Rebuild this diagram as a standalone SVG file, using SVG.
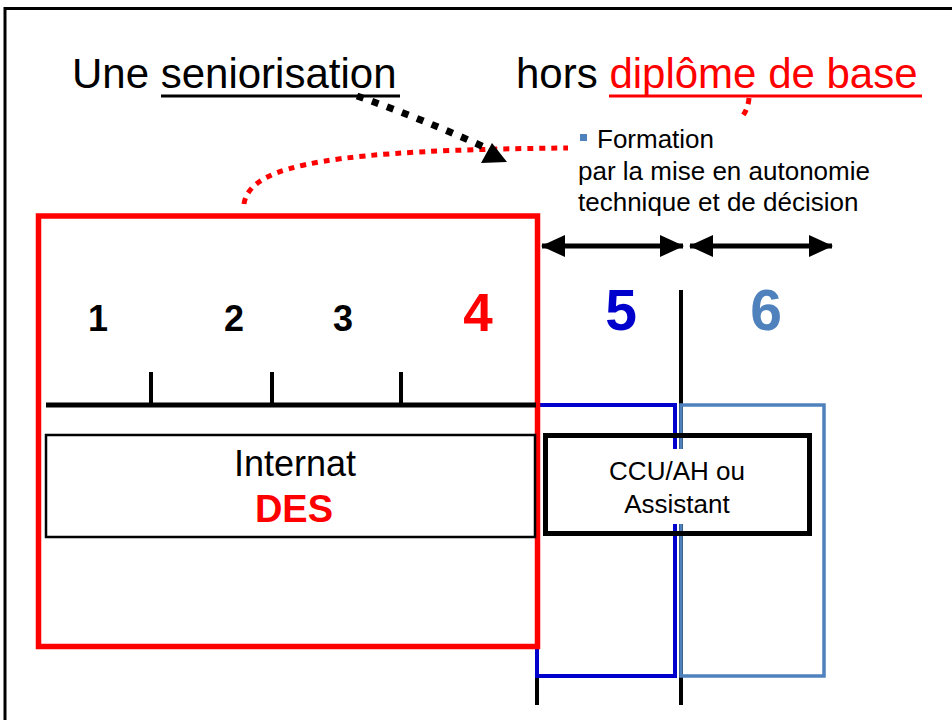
<svg xmlns="http://www.w3.org/2000/svg" width="952" height="720" viewBox="0 0 952 720">
<style>
  text { font-family: "Liberation Sans", Arial, sans-serif; }
  .title { font-size: 42px; fill: #000; }
  .red { fill: #FF0000; }
  .num { font-size: 36px; font-weight: bold; fill: #000; text-anchor: middle; }
  .small { font-size: 26px; fill: #000; }
  .mid { text-anchor: middle; }
  .reddot { fill: none; stroke: #FF0000; stroke-width: 5; stroke-dasharray: 6 6; }
  .blackdot { fill: none; stroke: #000; stroke-width: 7; stroke-dasharray: 7 9; }
  .axis { stroke: #000; stroke-width: 5; }
  .tick { stroke: #000; stroke-width: 4; }
  .dbl { stroke: #000; stroke-width: 5; }
</style>
<defs>
  <marker id="ah" viewBox="0 0 24 22" refX="23" refY="11" markerWidth="24" markerHeight="22" markerUnits="userSpaceOnUse" orient="auto-start-reverse">
    <path d="M0,0 L24,11 L0,22 Z" fill="#000"/>
  </marker>
</defs>
<rect x="0" y="0" width="952" height="720" fill="#fff"/>
<g id="frame">
  <rect x="5" y="8.5" width="980" height="740" fill="none" stroke="#000" stroke-width="3"/>
</g>

<g id="title-left">
  <text class="title" x="72" y="88">Une seniorisation</text>
  <line x1="161" y1="96" x2="400" y2="96" stroke="#000" stroke-width="3"/>
</g>
<g id="title-right">
  <text class="title" x="516" y="88">hors <tspan class="red">diplôme de base</tspan></text>
  <line x1="609" y1="96" x2="922" y2="96" stroke="#FF0000" stroke-width="3"/>
</g>

<g id="formation">
  <rect x="580" y="134" width="7" height="7" fill="#4F81BD"/>
  <text class="small" x="597" y="148">Formation</text>
  <text class="small" x="578" y="180">par la mise en autonomie</text>
  <text class="small" x="578" y="211">technique et de décision</text>
</g>

<g id="guides">
  <line x1="681" y1="290" x2="681" y2="705" stroke="#000" stroke-width="4"/>
  <line x1="537" y1="649" x2="537" y2="705" stroke="#000" stroke-width="4"/>
</g>

<g id="year6-box">
  <rect x="681" y="405" width="143" height="271" fill="none" stroke="#4F81BD" stroke-width="3.5"/>
</g>
<g id="year5-box">
  <rect x="537" y="405" width="138" height="271" fill="none" stroke="#0000CC" stroke-width="4"/>
</g>

<g id="ccu">
  <rect x="545.5" y="435.5" width="264" height="98" fill="none" stroke="#000" stroke-width="5"/>
  <rect x="668" y="449" width="22" height="75" fill="#fff"/>
  <text class="small mid" x="677" y="480">CCU/AH ou</text>
  <text class="small mid" x="677" y="513">Assistant</text>
</g>

<g id="des-box">
  <rect x="38.5" y="216" width="499" height="430.5" fill="none" stroke="#FF0000" stroke-width="5.5"/>
</g>

<g id="axis">
  <line class="axis" x1="46" y1="405" x2="536" y2="405"/>
  <line class="tick" x1="151" y1="372" x2="151" y2="405"/>
  <line class="tick" x1="272" y1="372" x2="272" y2="405"/>
  <line class="tick" x1="401" y1="372" x2="401" y2="405"/>
</g>

<g id="years">
  <text class="num" x="98" y="331">1</text>
  <text class="num" x="234" y="331">2</text>
  <text class="num" x="343" y="331">3</text>
  <text class="num" x="478" y="331" style="font-size:53px;fill:#FF0000">4</text>
  <text class="num" x="621" y="330" style="font-size:57px;fill:#0000CC">5</text>
  <text class="num" x="766" y="330" style="font-size:57px;fill:#4F81BD">6</text>
</g>

<g id="internat">
  <rect x="46" y="435" width="489" height="102" fill="#fff" stroke="#000" stroke-width="2.5"/>
  <text class="mid" x="295" y="476" style="font-size:36px">Internat</text>
  <text class="mid red" x="294" y="522" style="font-size:38px;font-weight:bold">DES</text>
</g>

<g id="connectors">
  <path class="reddot" d="M244,204 C250,163 340,150 568,148"/>
  <path class="reddot" d="M749,98 Q748,110 741,118"/>
  <path class="blackdot" d="M357,96 Q420,118 484,147"/>
  <polygon points="492,143 481,163 507,162" fill="#000"/>
  <line class="dbl" x1="542" y1="246" x2="683" y2="246" marker-start="url(#ah)" marker-end="url(#ah)"/>
  <line class="dbl" x1="690" y1="246" x2="832" y2="246" marker-start="url(#ah)" marker-end="url(#ah)"/>
</g>
</svg>
